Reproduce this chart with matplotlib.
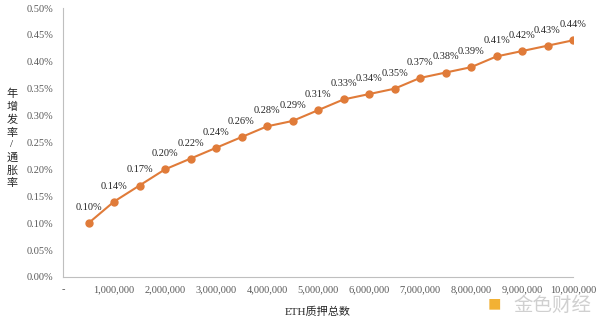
import numpy as np
import matplotlib.pyplot as plt
from matplotlib.ticker import FuncFormatter, MultipleLocator

# ETH质押总数 vs 年增发率/通胀率
staked = [500000, 1000000, 1500000, 2000000, 2500000, 3000000, 3500000, 4000000, 4500000, 5000000,
          5500000, 6000000, 6500000, 7000000, 7500000, 8000000, 8500000, 9000000, 9500000, 10000000]
rate = [0.10, 0.14, 0.17, 0.20, 0.22, 0.24, 0.26, 0.28, 0.29, 0.31,
        0.33, 0.34, 0.35, 0.37, 0.38, 0.39, 0.41, 0.42, 0.43, 0.44]

serif = ['Liberation Serif', 'Noto Sans CJK SC']
plt.rcParams['font.family'] = serif

fig = plt.figure(figsize=(6, 3.22), dpi=100)
ax = fig.add_axes([0.105, 0.14, 0.85, 0.835])

ax.plot(staked, rate, color='#E07B39', lw=1.5, marker='o', ms=5, zorder=3)
for x, y in zip(staked, rate):
    ax.annotate(f'{y:.2f}%', (x, y), xytext=(0, 8), textcoords='offset points',
                ha='center', va='bottom', fontsize=7.5, color='#262626')

ax.set_xlim(0, 10000000)
ax.set_ylim(0, 0.5)
ax.xaxis.set_major_locator(MultipleLocator(1000000))
ax.yaxis.set_major_locator(MultipleLocator(0.05))
ax.xaxis.set_major_formatter(FuncFormatter(lambda v, p: '-' if v == 0 else f'{int(v):,}'))
ax.yaxis.set_major_formatter(FuncFormatter(lambda v, p: f'{v:.2f}%'))
ax.tick_params(length=0, labelsize=7.5, colors='#595959')
ax.tick_params(axis='y', pad=7)
ax.tick_params(axis='x', pad=6)

for s in ['top', 'right']:
    ax.spines[s].set_visible(False)
for s in ['left', 'bottom']:
    ax.spines[s].set_color('#bfbfbf')
    ax.spines[s].set_linewidth(0.8)

ax.set_xlabel('ETH质押总数', fontsize=8, labelpad=9, color='#262626')
fig.text(0.02, 0.57, '\n'.join('年增发率/通胀率'), fontsize=8, ha='center', va='center',
         linespacing=1.35, color='#262626')

# 水印
fig.text(0.812, 0.02, '■', fontsize=16, color='#F2B134', ha='left', va='bottom')
fig.text(0.855, 0.018, '金色财经', fontsize=14, color='#d0d0d0', ha='left', va='bottom',
         family=['Noto Sans CJK SC'])

fig.savefig('out.png', dpi=100)
